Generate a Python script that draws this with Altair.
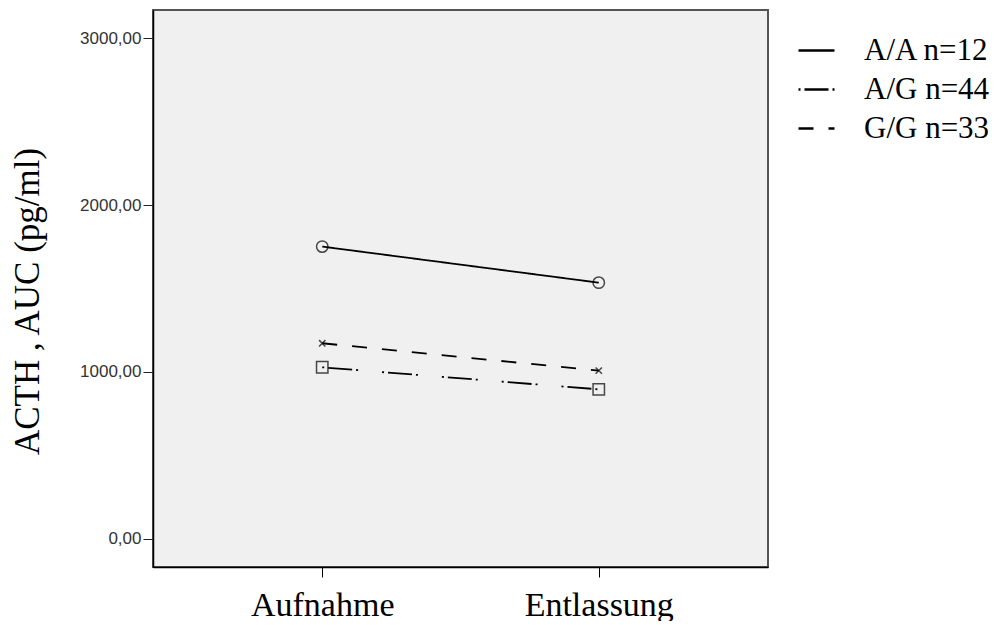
import altair as alt
import pandas as pd

times = ["Aufnahme", "Entlassung"]
groups = ["A/A n=12", "A/G n=44", "G/G n=33"]
aa_values = [1751, 1535]
ag_values = [1028, 896]
gg_values = [1172, 1008]
y_ticks = [0, 1000, 2000, 3000]

rows = []
for g, vals in zip(groups, [aa_values, ag_values, gg_values]):
    for t, v in zip(times, vals):
        rows.append({"Zeit": t, "Gruppe": g, "Marker": g, "Wert": v})
df = pd.DataFrame(rows)

x_enc = alt.X(
    "Zeit:N",
    sort=times,
    scale=alt.Scale(type="point", padding=0.612),
    axis=alt.Axis(
        title=None, labelFont="Liberation Serif", labelFontSize=34, labelColor="black",
        labelAngle=0, tickSize=10, tickColor="black", labelPadding=11,
        domainColor="black", domainWidth=1.5,
    ),
)
y_enc = alt.Y(
    "Wert:Q",
    scale=alt.Scale(domain=[-168, 3168], nice=False, zero=False),
    axis=alt.Axis(
        title="ACTH , AUC (pg/ml)", titleFont="Liberation Serif", titleFontSize=35,
        titleFontWeight="normal", titleColor="black", titlePadding=34, titleY=291,
        values=y_ticks, labelExpr="replace(format(datum.value, '.2f'), '.', ',')",
        labelFont="Liberation Sans", labelFontSize=17, labelColor="#333333",
        tickSize=10, tickColor="#222222", labelPadding=2, grid=False,
        domainColor="black", domainWidth=1.5,
    ),
)

dash_scale = alt.Scale(domain=groups, range=[[1, 0], [2, 4, 24, 4, 2, 24], [15, 15]])
shape_scale = alt.Scale(domain=groups, range=["circle", "square", "M-1,-1L1,1M-1,1L1,-1"])

lines = alt.Chart(df).mark_line(color="black", strokeWidth=1.8).encode(
    x=x_enc,
    y=y_enc,
    strokeDash=alt.StrokeDash(
        "Gruppe:N", scale=dash_scale, sort=groups,
        legend=alt.Legend(
            title=None, orient="none", legendX=644, legendY=21,
            labelFont="Liberation Serif", labelFontSize=31, labelColor="black",
            symbolType="stroke", symbolSize=1296, symbolStrokeWidth=2.5,
            symbolStrokeColor="black", labelOffset=28, rowPadding=4, padding=0,
        ),
    ),
)

points = alt.Chart(df).mark_point(filled=False, color="black", strokeWidth=1.5).encode(
    x=x_enc,
    y=y_enc,
    shape=alt.Shape("Marker:N", scale=shape_scale, legend=None),
    size=alt.condition("datum.Gruppe == 'G/G n=33'", alt.value(40), alt.value(130)),
)

chart = (
    alt.layer(lines, points)
    .resolve_scale(strokeDash="independent", shape="independent")
    .properties(
        width=615, height=557,
        autosize=alt.AutoSizeParams(type="none"),
        padding={"left": 145, "top": 2, "right": 230, "bottom": 54},
        background="white",
    )
    .configure_view(fill="#f0f0f0", stroke="#555555", strokeWidth=2)
)

chart.save("out.html", embed_options={"renderer": "svg", "actions": False})
